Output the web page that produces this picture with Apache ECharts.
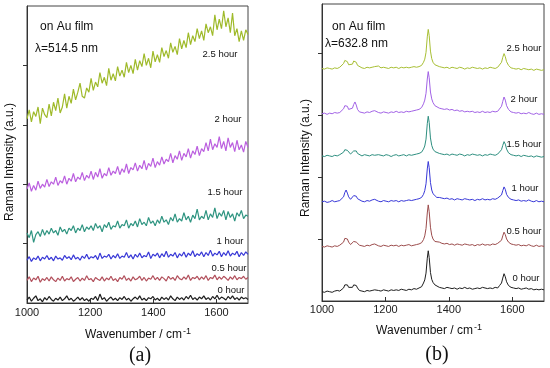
<!DOCTYPE html>
<html><head><meta charset="utf-8">
<script src="https://cdn.jsdelivr.net/npm/echarts@6/dist/echarts.min.js"></script>
<style>html,body{margin:0;padding:0;background:#fff}#c{width:550px;height:368px}</style>
</head><body><div id="c"></div>
<script>
const xTicks = [1000, 1200, 1400, 1600];
const yTicks = [1, 2, 3, 4];
const seriesNames = ['0 hour', '0.5 hour', '1 hour', '1.5 hour', '2 hour', '2.5 hour'];

// Panel (a): lambda = 514.5 nm
const xA = [1000,1007,1014,1021,1028,1035,1042,1049,1056,1063,1070,1077,1084,1091,1098,1105,1112,1119,1126,1133,1140,1147,1154,1161,1168,1175,1182,1189,1196,1203,1210,1217,1224,1231,1238,1245,1252,1259,1266,1273,1280,1287,1294,1301,1308,1315,1322,1329,1336,1343,1350,1357,1364,1371,1378,1385,1392,1399,1406,1413,1420,1427,1434,1441,1448,1455,1462,1469,1476,1483,1490,1497,1504,1511,1518,1525,1532,1539,1546,1553,1560,1567,1574,1581,1588,1595,1602,1609,1616,1623,1630,1637,1644,1651,1658,1665,1672,1679,1686,1693,1700];
const a00 = [0.05,0.10,0.03,0.08,0.12,0.04,0.07,0.02,0.09,0.05,0.11,0.06,0.03,0.08,0.05,0.10,0.04,0.07,0.12,0.05,0.08,0.03,0.06,0.10,0.05,0.09,0.04,0.07,0.03,0.08,0.06,0.11,0.04,0.15,0.06,0.09,0.03,0.07,0.10,0.05,0.08,0.04,0.09,0.06,0.11,0.05,0.08,0.03,0.07,0.10,0.06,0.12,0.05,0.08,0.04,0.09,0.07,0.11,0.05,0.08,0.04,0.10,0.06,0.09,0.05,0.12,0.07,0.04,0.10,0.06,0.09,0.05,0.11,0.07,0.13,0.06,0.09,0.05,0.10,0.07,0.12,0.06,0.09,0.05,0.11,0.07,0.13,0.06,0.10,0.08,0.05,0.11,0.07,0.12,0.06,0.09,0.05,0.10,0.07,0.09,0.06];
const a05 = [0.38,0.44,0.36,0.42,0.39,0.45,0.35,0.41,0.38,0.43,0.37,0.44,0.39,0.36,0.42,0.38,0.45,0.37,0.41,0.39,0.44,0.36,0.40,0.43,0.37,0.42,0.38,0.46,0.39,0.41,0.36,0.43,0.40,0.38,0.44,0.37,0.42,0.39,0.45,0.38,0.41,0.36,0.43,0.40,0.46,0.38,0.42,0.37,0.44,0.39,0.41,0.45,0.38,0.43,0.37,0.42,0.40,0.46,0.39,0.43,0.38,0.44,0.41,0.37,0.45,0.40,0.43,0.38,0.46,0.41,0.39,0.44,0.40,0.47,0.38,0.43,0.41,0.45,0.39,0.44,0.40,0.46,0.38,0.43,0.41,0.47,0.39,0.44,0.40,0.45,0.42,0.38,0.44,0.40,0.46,0.39,0.43,0.41,0.45,0.40,0.43];
const a10 = [0.72,0.78,0.70,0.76,0.73,0.79,0.71,0.77,0.74,0.80,0.73,0.77,0.71,0.79,0.74,0.76,0.72,0.80,0.75,0.78,0.73,0.81,0.74,0.77,0.72,0.79,0.75,0.82,0.74,0.78,0.76,0.80,0.73,0.84,0.75,0.79,0.77,0.82,0.74,0.80,0.76,0.83,0.75,0.79,0.77,0.85,0.76,0.81,0.74,0.82,0.77,0.84,0.76,0.80,0.78,0.86,0.75,0.82,0.79,0.84,0.76,0.83,0.78,0.87,0.77,0.82,0.79,0.85,0.76,0.83,0.79,0.86,0.77,0.84,0.80,0.88,0.78,0.83,0.80,0.86,0.78,0.85,0.80,0.89,0.79,0.84,0.81,0.87,0.78,0.85,0.80,0.88,0.79,0.84,0.81,0.87,0.78,0.85,0.80,0.86,0.82];
const a15 = [1.18,1.10,1.22,1.02,1.15,1.20,1.12,1.24,1.14,1.22,1.16,1.26,1.18,1.22,1.14,1.28,1.20,1.24,1.16,1.26,1.22,1.30,1.18,1.26,1.22,1.32,1.20,1.28,1.24,1.30,1.22,1.34,1.26,1.30,1.20,1.32,1.27,1.36,1.24,1.30,1.28,1.38,1.26,1.32,1.30,1.40,1.26,1.34,1.30,1.38,1.28,1.42,1.32,1.36,1.30,1.44,1.34,1.38,1.30,1.40,1.34,1.46,1.36,1.40,1.32,1.44,1.38,1.50,1.36,1.42,1.38,1.52,1.40,1.46,1.36,1.48,1.42,1.58,1.40,1.46,1.42,1.56,1.40,1.50,1.44,1.60,1.42,1.52,1.46,1.56,1.40,1.54,1.44,1.50,1.38,1.52,1.46,1.56,1.42,1.48,1.46];
const a20 = [1.92,2.02,1.88,1.98,1.90,2.05,1.93,2.00,1.95,2.08,1.96,2.04,2.00,2.12,1.98,2.06,2.02,2.14,2.00,2.10,2.05,2.18,2.04,2.12,2.08,2.20,2.06,2.15,2.10,2.22,2.08,2.20,2.12,2.26,2.10,2.18,2.14,2.28,2.15,2.22,2.18,2.30,2.16,2.26,2.20,2.34,2.18,2.28,2.24,2.36,2.22,2.32,2.26,2.40,2.24,2.35,2.30,2.44,2.28,2.38,2.32,2.46,2.34,2.42,2.38,2.52,2.36,2.48,2.42,2.56,2.40,2.52,2.46,2.60,2.44,2.56,2.50,2.64,2.48,2.60,2.55,2.70,2.56,2.76,2.58,2.68,2.62,2.80,2.60,2.72,2.56,2.78,2.62,2.70,2.55,2.74,2.58,2.66,2.54,2.72,2.62];
const a25 = [3.10,3.25,3.05,3.22,3.14,3.30,3.02,3.28,3.17,3.12,3.35,3.15,3.38,3.24,3.45,3.20,3.30,3.52,3.28,3.48,3.36,3.60,3.42,3.55,3.70,3.48,3.45,3.62,3.55,3.78,3.58,3.72,3.64,3.88,3.70,3.80,3.66,3.95,3.75,3.86,3.74,3.98,3.82,3.92,3.80,4.05,3.88,4.00,3.86,4.10,3.92,4.08,3.98,4.20,4.00,4.12,3.96,4.24,4.06,4.18,4.05,4.30,4.15,4.25,4.12,4.38,4.22,4.32,4.18,4.45,4.28,4.42,4.30,4.55,4.35,4.50,4.40,4.62,4.45,4.58,4.42,4.70,4.55,4.65,4.50,4.85,4.60,4.78,4.62,4.92,4.65,4.80,4.55,4.88,4.50,4.62,4.40,4.58,4.42,4.60,4.52];

// Panel (b): lambda = 632.8 nm
const xB = [1000,1008,1016,1024,1032,1040,1048,1056,1062,1068,1072,1076,1080,1084,1090,1096,1100,1104,1108,1112,1118,1126,1134,1142,1150,1158,1166,1172,1178,1186,1194,1202,1210,1218,1226,1234,1242,1250,1258,1266,1274,1282,1290,1298,1306,1314,1320,1324,1328,1332,1335,1338,1342,1346,1350,1356,1362,1370,1378,1386,1394,1402,1410,1418,1426,1434,1442,1450,1458,1466,1474,1482,1490,1498,1506,1514,1522,1530,1538,1546,1554,1560,1566,1570,1574,1578,1582,1588,1596,1604,1612,1620,1628,1636,1644,1652,1660,1668,1676,1684,1692,1700];
const b00 = [0.15,0.14,0.16,0.15,0.14,0.16,0.17,0.16,
  0.18,0.21,0.26,0.29,0.26,0.22,0.19,0.22,0.26,0.29,0.25,0.21,
  0.17,0.16,0.15,0.17,0.16,0.17,0.18,0.20,0.17,0.16,0.18,0.17,0.16,0.18,0.17,0.18,0.17,0.19,0.18,0.17,0.19,0.18,0.20,0.19,0.21,0.23,
  0.29,0.34,0.45,0.69,0.81,0.70,0.46,0.35,0.30,0.26,0.24,
  0.22,0.21,0.20,0.22,0.21,0.20,0.21,0.19,0.21,0.20,0.22,0.20,0.21,0.19,0.20,0.21,0.20,0.22,0.21,0.20,0.21,0.20,0.22,0.21,
  0.25,0.29,0.37,0.44,0.39,0.31,0.25,
  0.22,0.21,0.20,0.21,0.19,0.20,0.21,0.19,0.20,0.18,0.19,0.18,0.19,0.18];
const b05 = [0.88,0.87,0.89,0.88,0.87,0.89,0.88,0.90,
  0.91,0.95,1.01,1.04,1.00,0.95,0.91,0.93,0.96,0.98,0.95,0.92,
  0.90,0.89,0.88,0.90,0.89,0.91,0.92,0.90,0.89,0.88,0.90,0.89,0.88,0.90,0.89,0.90,0.88,0.90,0.89,0.90,0.91,0.89,0.90,0.91,0.92,0.94,
  0.99,1.05,1.17,1.42,1.55,1.44,1.19,1.06,1.00,0.96,0.94,
  0.95,0.93,0.92,0.93,0.91,0.92,0.90,0.92,0.91,0.90,0.92,0.91,0.90,0.91,0.89,0.91,0.90,0.92,0.90,0.91,0.90,0.92,0.91,0.93,
  0.94,0.98,1.05,1.11,1.07,1.00,0.95,
  0.92,0.91,0.90,0.91,0.89,0.90,0.89,0.91,0.89,0.88,0.90,0.88,0.89,0.88];
const b10 = [1.60,1.61,1.59,1.60,1.62,1.60,1.61,1.62,
  1.64,1.68,1.75,1.79,1.74,1.68,1.64,1.66,1.70,1.73,1.69,1.65,
  1.62,1.61,1.60,1.62,1.61,1.63,1.64,1.62,1.61,1.60,1.62,1.61,1.60,1.62,1.61,1.62,1.60,1.62,1.61,1.62,1.63,1.62,1.63,1.64,1.65,1.67,
  1.72,1.78,1.89,2.13,2.25,2.15,1.91,1.79,1.73,1.70,1.67,
  1.67,1.66,1.65,1.66,1.64,1.65,1.63,1.65,1.64,1.63,1.65,1.64,1.63,1.64,1.62,1.64,1.63,1.65,1.63,1.64,1.63,1.65,1.64,1.66,
  1.67,1.71,1.78,1.84,1.80,1.72,1.67,
  1.64,1.63,1.62,1.63,1.61,1.62,1.61,1.63,1.61,1.60,1.62,1.60,1.61,1.60];
const b15 = [2.34,2.33,2.35,2.34,2.33,2.35,2.34,2.36,
  2.37,2.40,2.44,2.46,2.43,2.40,2.37,2.39,2.42,2.45,2.42,2.38,
  2.35,2.34,2.36,2.35,2.34,2.36,2.35,2.34,2.36,2.35,2.34,2.36,2.35,2.33,2.35,2.36,2.34,2.35,2.36,2.34,2.36,2.35,2.36,2.37,2.38,2.40,
  2.45,2.50,2.61,2.86,2.98,2.88,2.63,2.51,2.45,2.41,2.39,
  2.38,2.37,2.36,2.37,2.35,2.37,2.36,2.35,2.37,2.36,2.34,2.36,2.35,2.37,2.36,2.35,2.36,2.34,2.36,2.35,2.37,2.36,2.35,2.37,
  2.39,2.44,2.51,2.57,2.53,2.45,2.39,
  2.36,2.35,2.34,2.35,2.33,2.35,2.34,2.33,2.34,2.32,2.34,2.33,2.32,2.33];
const b20 = [3.02,3.03,3.01,3.03,3.02,3.04,3.03,3.04,
  3.06,3.10,3.15,3.18,3.14,3.09,3.07,3.11,3.17,3.21,3.16,3.09,
  3.05,3.04,3.03,3.05,3.04,3.06,3.07,3.05,3.04,3.03,3.05,3.04,3.03,3.05,3.04,3.06,3.04,3.05,3.04,3.06,3.05,3.06,3.07,3.08,3.09,3.12,
  3.18,3.24,3.35,3.58,3.70,3.60,3.37,3.26,3.20,3.15,3.12,
  3.11,3.10,3.09,3.10,3.08,3.09,3.07,3.08,3.06,3.07,3.05,3.06,3.05,3.06,3.04,3.05,3.04,3.06,3.04,3.05,3.04,3.06,3.05,3.06,
  3.09,3.14,3.22,3.29,3.24,3.15,3.09,
  3.05,3.04,3.03,3.04,3.02,3.03,3.02,3.04,3.02,3.01,3.03,3.01,3.02,3.01];
const b25 = [3.75,3.74,3.76,3.75,3.74,3.76,3.75,3.77,
  3.79,3.83,3.88,3.90,3.86,3.81,3.78,3.82,3.87,3.90,3.85,3.80,
  3.77,3.76,3.75,3.77,3.76,3.77,3.78,3.81,3.79,3.76,3.77,3.76,3.75,3.77,3.76,3.77,3.75,3.77,3.76,3.77,3.76,3.77,3.78,3.77,3.78,3.80,
  3.85,3.90,4.01,4.26,4.38,4.28,4.03,3.91,3.85,3.81,3.79,
  3.78,3.77,3.76,3.77,3.75,3.77,3.76,3.75,3.77,3.76,3.74,3.76,3.75,3.77,3.76,3.75,3.76,3.74,3.76,3.75,3.77,3.76,3.75,3.77,
  3.80,3.85,3.93,3.99,3.94,3.86,3.80,
  3.76,3.75,3.74,3.75,3.73,3.75,3.74,3.73,3.74,3.72,3.74,3.73,3.72,3.73];

const colorsA = ['#1e1e1e', '#b2505c', '#3838d6', '#2e9480', '#bb5fdf', '#9fba2a'];
const colorsB = ['#1e1e1e', '#9c4c4c', '#3838d8', '#2e8f80', '#a262e6', '#a8bf34'];

const ysA = [a00, a05, a10, a15, a20, a25];
const ysB = [b00, b05, b10, b15, b20, b25];
const pairs = (xs, ys) => xs.map((x, i) => [x, ys[i]]);

const FONT = 'Liberation Sans, Arial, sans-serif';
const series = [];
seriesNames.forEach((n, k) => {
  series.push({ name: n + ' (a)', type: 'line', xAxisIndex: 0, yAxisIndex: 0, data: pairs(xA, ysA[k]),
    symbol: 'none', lineStyle: { width: 1.2, color: colorsA[k] }, animation: false, silent: true });
  series.push({ name: n + ' (b)', type: 'line', xAxisIndex: 1, yAxisIndex: 1, data: pairs(xB, ysB[k]),
    symbol: 'none', lineStyle: { width: 1, color: colorsB[k] }, animation: false, silent: true });
});

function xAxisDef(gi, margin) {
  return { gridIndex: gi, type: 'value', min: 1000, max: 1700,
    axisLine: { show: true, lineStyle: { color: '#333', width: 1 } },
    axisTick: { show: true, inside: true, length: 4, customValues: xTicks, lineStyle: { color: '#333' } },
    axisLabel: { customValues: xTicks, margin: margin, fontSize: 11, color: '#222', fontFamily: FONT, formatter: v => String(v) },
    splitLine: { show: false } };
}
function yAxisDef(gi, max) {
  return { gridIndex: gi, type: 'value', min: 0, max: max,
    axisLine: { show: true, lineStyle: { color: '#333', width: 1 } },
    axisTick: { show: true, inside: false, length: 4, customValues: yTicks, lineStyle: { color: '#333' } },
    axisLabel: { show: false }, splitLine: { show: false } };
}

// label annotations
const labelsA = [['2.5 hour', 220, 54], ['2 hour', 228, 119], ['1.5 hour', 225, 192], ['1 hour', 230, 241], ['0.5 hour', 229, 268], ['0 hour', 231, 290]];
const labelsB = [['2.5 hour', 524, 48], ['2 hour', 524, 99], ['1.5 hour', 524, 144], ['1 hour', 525, 188], ['0.5 hour', 524, 231], ['0 hour', 526, 278]];
const txt = (t, x, y, size, align, extra) => Object.assign({ type: 'text', x: x, y: y, silent: true,
  style: { text: t, fontSize: size, fontFamily: FONT, fill: '#111', textAlign: align || 'center', textVerticalAlign: 'middle' } }, extra || {});
const graphic = [];
labelsA.concat(labelsB).forEach(l => graphic.push(txt(l[0], l[1], l[2], 9.5)));
graphic.push(txt('on Au film', 40, 27, 12, 'left'));
graphic.push(txt('λ=514.5 nm', 35, 49, 12, 'left'));
graphic.push(txt('on Au film', 332, 27, 12, 'left'));
graphic.push(txt('λ=632.8 nm', 325, 44, 12, 'left'));
// axis titles
graphic.push(txt('Wavenumber / cm', 182, 335, 12, 'right'));
graphic.push({ type: 'text', x: 183, y: 327, silent: true, style: { text: '-1', fontSize: 9, fontFamily: FONT, fill: '#111', textAlign: 'left', textVerticalAlign: 'top' } });
graphic.push(txt('Wavenumber / cm', 473, 331, 12, 'right'));
graphic.push({ type: 'text', x: 474, y: 323, silent: true, style: { text: '-1', fontSize: 9, fontFamily: FONT, fill: '#111', textAlign: 'left', textVerticalAlign: 'top' } });
graphic.push(txt('Raman Intensity (a.u.)', 10, 162, 12, 'center', { rotation: Math.PI / 2 }));
graphic.push(txt('Raman Intensity (a.u.)', 306, 158, 12, 'center', { rotation: Math.PI / 2 }));
graphic.push({ type: 'text', x: 140, y: 356, silent: true, style: { text: '(a)', fontSize: 20, fontFamily: 'Liberation Serif, Times New Roman, serif', fill: '#111', textAlign: 'center', textVerticalAlign: 'middle' } });
graphic.push({ type: 'text', x: 437, y: 355, silent: true, style: { text: '(b)', fontSize: 20, fontFamily: 'Liberation Serif, Times New Roman, serif', fill: '#111', textAlign: 'center', textVerticalAlign: 'middle' } });

const chart = echarts.init(document.getElementById('c'), null, { renderer: 'canvas' });
chart.setOption({
  backgroundColor: '#fff',
  animation: false,
  grid: [
    { left: 27, top: 6, width: 221, height: 297, show: true, borderColor: '#444', borderWidth: 1 },
    { left: 322, top: 4, width: 222, height: 297, show: true, borderColor: '#444', borderWidth: 1 }
  ],
  xAxis: [xAxisDef(0, 4), xAxisDef(1, 3)],
  yAxis: [yAxisDef(0, 5), yAxisDef(1, 4.79)],
  series: series,
  graphic: graphic
});
</script></body></html>
